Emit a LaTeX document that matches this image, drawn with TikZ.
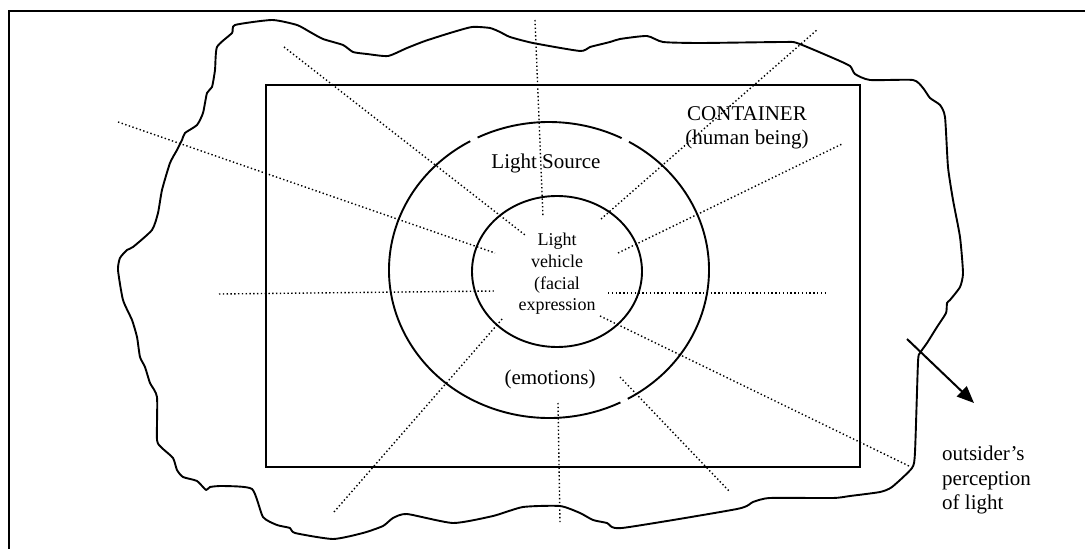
\documentclass[tikz,border=0pt]{standalone}
\usepackage{fontspec}
\setmainfont{Liberation Serif}
\usetikzlibrary{arrows.meta}
\begin{document}
\begin{tikzpicture}[x=1bp,y=1bp,
  outline/.style={line width=1.9bp, line join=round, line cap=round},
  ray/.style={line width=1.4bp, dash pattern=on 1.4bp off 2.4bp},
  bigtext/.style={font=\fontsize{21bp}{24.5bp}\selectfont, align=center, inner sep=0pt},
  smalltext/.style={font=\fontsize{18bp}{21.7bp}\selectfont, align=center, inner sep=0pt}]
\useasboundingbox (0,0) rectangle (1085,-549);
% page frame (top and left edges)
\draw[line width=2.4bp] (9.2,-549) -- (9.2,-11.2) -- (1085,-11.2);

% irregular outline around everything
\draw[outline] plot[smooth cycle, tension=0.35] coordinates {
 (235,-25) (272,-20) (297,-25) (310,-32) (323,-39) (343,-45) (353,-52) (367,-54)
 (388,-56) (407,-48) (425,-41) (450,-33) (472,-27) (490,-28) (500,-32) (510,-37)
 (533,-43) (580,-51) (590,-47) (610,-42) (620,-39) (647,-36) (663,-42) (700,-43)
 (783,-42) (797,-43) (833,-58) (850,-66) (855,-74) (870,-80) (913,-80) (923,-88)
 (930,-98) (940,-105) (945,-117) (948,-167) (953,-200) (960,-237) (963,-273)
 (960,-287) (950,-300) (947,-303) (946,-313) (937,-327) (927,-343) (920,-353)
 (918,-362) (915,-452) (912,-468) (892,-487) (880,-492) (850,-496) (833,-498)
 (770,-498) (753,-502) (737,-509) (622,-528) (607,-523) (593,-520) (580,-513)
 (560,-506) (523,-507) (493,-516) (453,-523) (407,-514) (393,-518) (383,-526)
 (363,-533) (333,-539) (295,-533) (290,-528) (277,-525) (263,-517) (252,-489)
 (223,-486) (210,-487) (206,-490) (197,-481) (183,-477) (177,-470) (173,-458)
 (162,-448) (157,-440) (157,-397) (150,-383) (145,-367) (140,-357) (137,-337)
 (132,-320) (123,-300) (118,-270) (120,-258) (127,-250) (133,-247) (152,-230)
 (158,-213) (162,-190) (170,-163) (177,-150) (182,-140) (185,-133) (197,-125)
 (203,-113) (207,-93) (212,-87) (215,-70) (217,-47) (232,-33)};

% container rectangle
\draw[line width=1.9bp] (266,-85) rectangle (860,-467);

% light source ellipse, with small breaks
\coordinate (src) at (549,-270);
\begin{scope}[line width=1.9bp]
\draw (src) ++(63:160 and 148) arc[start angle=63, end angle=116.5, x radius=160, y radius=148];
\draw (src) ++(119.5:160 and 148) arc[start angle=119.5, end angle=296.5, x radius=160, y radius=148];
\draw (src) ++(299.5:160 and 148) arc[start angle=299.5, end angle=420, x radius=160, y radius=148];
\end{scope}

% light vehicle ellipse
\coordinate (veh) at (557,-271.5);
\draw[line width=1.9bp] (veh) ellipse[x radius=85, y radius=75.5];

% dotted rays of light
\draw[ray] (535,-20) -- (543,-217);
\draw[ray] (284,-47) -- (525,-235);
\draw[ray] (118,-122) -- (495,-253);
\draw[ray] (219,-294) -- (495,-291);
\draw[ray] (334,-512) -- (503,-318);
\draw[ray] (558,-403) -- (560,-524);
\draw[ray] (620,-377) -- (729,-491);
\draw[ray] (600,-316) -- (911,-467);
\draw[ray] (608,-293) -- (828,-293);
\draw[ray] (618,-253) -- (842,-144);
\draw[ray] (601,-219) -- (818,-29);

% labels
\node[bigtext] (container) at (747,-128) {CONTAINER\\(human being)};
\node[bigtext] (lightsrc) at (546,-163) {Light Source};
\node[smalltext] (vehicle) at (557,-274) {Light\\vehicle\\(facial\\expression};
\node[bigtext] (emotions) at (550,-379) {(emotions)};
\node[bigtext, align=left, anchor=north west] (outsider) at (942,-446) {outsider’s\\perception\\of light};

% outgoing perception arrow
\coordinate (arrS) at (907,-339);
\coordinate (arrE) at (974,-403);
\draw[line width=2bp, -{Triangle[length=17bp,width=14bp]}] (arrS) -- (arrE);
\end{tikzpicture}
\end{document}
